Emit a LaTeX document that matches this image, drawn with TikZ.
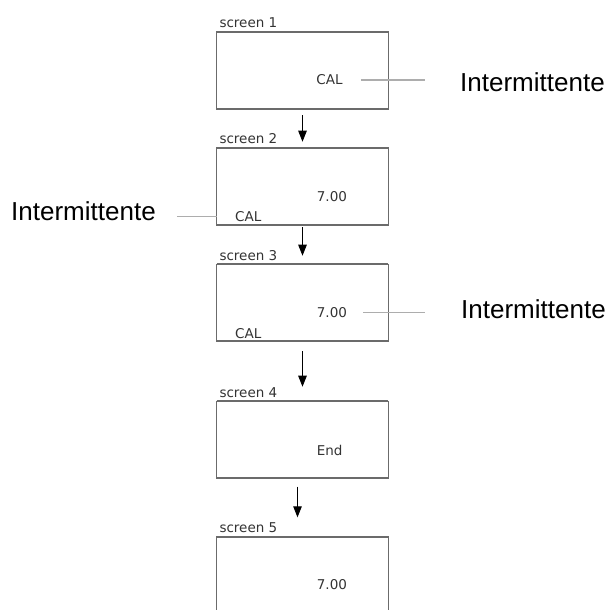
\documentclass[tikz,border=0pt]{standalone}
\usepackage{fontspec}
\setmainfont{Liberation Sans}
\newfontfamily\lcdfont{DejaVu Sans}
\usetikzlibrary{arrows.meta}
\usetikzlibrary{positioning}
\definecolor{framegray}{gray}{0.42}
\definecolor{leadgray}{gray}{0.68}
\definecolor{lcdtext}{gray}{0.2}

\begin{document}
\begin{tikzpicture}[x=1pt,y=1pt,
screen/.style={draw=framegray, line width=0.9pt, minimum width=171.6pt,
minimum height=77.3pt, inner sep=0pt, outer sep=0pt},
title/.style={font=\lcdfont\fontsize{13.5}{15}\selectfont, text=lcdtext,
inner sep=0pt, anchor=base west},
lcd/.style={font=\lcdfont\fontsize{13.5}{15}\selectfont, text=lcdtext,
inner sep=0pt, anchor=west},
note/.style={font=\fontsize{26}{30}\selectfont, inner sep=0pt, anchor=west},
lead/.style={draw=leadgray, line width=1.1pt},
flow/.style={-{Triangle[width=8.5pt,length=11pt]}, line width=0.9pt,
shorten <=6pt, shorten >=6pt}]
\useasboundingbox (0,0) rectangle (610,-610);
\clip (0,0) rectangle (610,-610);
% the five screens
\node[screen, anchor=north west] (b1) at (216.7,-31.7) {};
\node[screen, below=38.7pt of b1] (b2) {};
\node[screen, below=39pt of b2] (b3) {};
\node[screen, below=59.7pt of b3] (b4) {};
\node[screen, below=58.4pt of b4] (b5) {};
\foreach \b in {b1,b2,b3,b4,b5}
  \draw[framegray, line width=2pt] (\b.north west) -- (\b.north east)
  (\b.south west) -- (\b.south east);
% titles
\foreach \b/\n in {b1/1,b2/2,b3/3,b4/4,b5/5}
  \node[title] (t\n) at ([shift={(2.6pt,4pt)}]\b.north west) {screen \n};
% display contents
\node[lcd] (cal1) at ([shift={(99.5pt,-48.3pt)}]b1.north west) {CAL};
\node[lcd] (val2) at ([shift={(100pt,-49pt)}]b2.north west) {7.00};
\node[lcd] (cal2) at ([shift={(18.3pt,-68.5pt)}]b2.north west) {CAL};
\node[lcd] (val3) at ([shift={(100pt,-48.7pt)}]b3.north west) {7.00};
\node[lcd] (cal3) at ([shift={(18.3pt,-69.3pt)}]b3.north west) {CAL};
\node[lcd] (end4) at ([shift={(100pt,-49pt)}]b4.north west) {End};
\node[lcd] (val5) at ([shift={(100pt,-48.3pt)}]b5.north west) {7.00};
% blinking notes
\node[note] (int1) at (460,-82) {Intermittente};
\node[note] (int2) at (11,-211.7) {Intermittente};
\node[note] (int3) at (461,-308.8) {Intermittente};
\draw[lead] ([xshift=18pt]cal1.east) -- ([xshift=-35pt]int1.west |- cal1.east);
\draw[lead] ([xshift=21pt]int2.east |- cal2.west) -- (b2.west |- cal2.west);
\draw[lead] ([xshift=16pt]val3.east) -- ([xshift=-36pt]int3.west |- val3.east);
% sequence
\draw[flow] (b1.south) -- (b2.north);
\draw[flow, shorten <=2pt, shorten >=8.3pt] (b2.south) -- (b3.north);
\draw[flow, shorten <=9.7pt, shorten >=14.3pt] (b3.south) -- (b4.north);
\draw[flow, shorten <=8.4pt, shorten >=19.4pt] ([xshift=-5pt]b4.south) -- ([xshift=-5pt]b5.north);
\end{tikzpicture}
\end{document}
